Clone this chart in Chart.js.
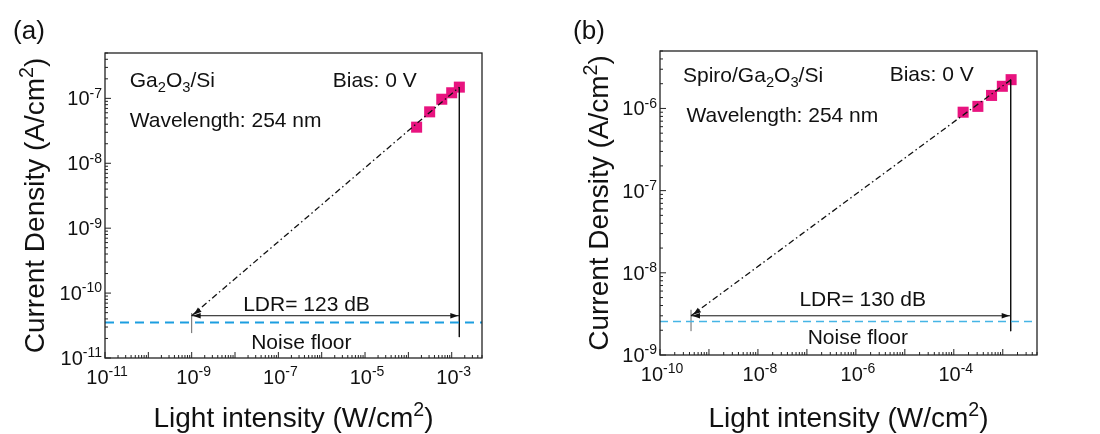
<!DOCTYPE html>
<html>
<head>
<meta charset="utf-8">
<script src="https://cdn.jsdelivr.net/npm/chart.js@4.4.1/dist/chart.umd.min.js"></script>
<style>
  html, body { margin: 0; padding: 0; background: #fff; }
  #wrap { position: relative; width: 1100px; height: 434px; }
  canvas { position: absolute; top: 0; }
  #chartA { left: 0; }
  #chartB { left: 550px; }
</style>
</head>
<body>
<div id="wrap">
  <canvas id="chartA" width="550" height="434"></canvas>
  <canvas id="chartB" width="550" height="434"></canvas>
</div>
<script>
// (a) Ga2O3/Si
const intensityA = [1.55e-4, 3.1e-4, 5.9e-4, 1.0e-3, 1.5e-3];
const currentA = [3.6e-8, 6.2e-8, 9.7e-8, 1.22e-7, 1.49e-7];
const xTicksA = [1e-11, 1e-9, 1e-7, 1e-5, 1e-3];
const yTicksA = [1e-11, 1e-10, 1e-9, 1e-8, 1e-7];
const noiseA = 3.53e-11;
const ldrLevelA = 4.48e-11;
const ldrRangeA = [1e-9, 1.5e-3];
const leftMarkA = [2.42e-11, 4.93e-11];
const rightMarkBottomA = 2.1e-11;

// (b) Spiro/Ga2O3/Si
const intensityB = [1.55e-4, 3.1e-4, 5.9e-4, 9.8e-4, 1.48e-3];
const currentB = [9.0e-7, 1.06e-6, 1.44e-6, 1.86e-6, 2.24e-6];
const xTicksB = [1e-10, 1e-8, 1e-6, 1e-4];
const yTicksB = [1e-9, 1e-8, 1e-7, 1e-6];
const noiseB = 2.55e-9;
const ldrLevelB = 3.0e-9;
const ldrRangeB = [4.3e-10, 1.45e-3];
const leftMarkB = [1.95e-9, 3.55e-9];
const rightMarkBottomB = 1.95e-9;

const FONT = '"Liberation Sans", Arial, sans-serif';
const PINK = '#e8137f';

// draw text made of parts: [text] or [text, 'sup' | 'sub']
function rich(ctx, parts, x, baseY, size, align) {
  const small = size * 0.7;
  const widths = parts.map(p => {
    ctx.font = (p[1] ? small : size) + 'px ' + FONT;
    return ctx.measureText(p[0]).width;
  });
  const total = widths.reduce((s, w) => s + w, 0);
  let cx = align === 'center' ? x - total / 2 : align === 'right' ? x - total : x;
  ctx.textAlign = 'left';
  ctx.textBaseline = 'alphabetic';
  parts.forEach((p, i) => {
    ctx.font = (p[1] ? small : size) + 'px ' + FONT;
    const dy = p[1] === 'sup' ? -0.38 * size : p[1] === 'sub' ? 0.24 * size : 0;
    ctx.fillText(p[0], cx, baseY + dy);
    cx += widths[i];
  });
}

function arrowHead(ctx, tx, ty, fx, fy) {
  const ang = Math.atan2(ty - fy, tx - fx);
  const len = 8, half = 2.8;
  ctx.beginPath();
  ctx.moveTo(tx, ty);
  ctx.lineTo(tx - len * Math.cos(ang) + half * Math.sin(ang), ty - len * Math.sin(ang) - half * Math.cos(ang));
  ctx.lineTo(tx - len * Math.cos(ang) - half * Math.sin(ang), ty - len * Math.sin(ang) + half * Math.cos(ang));
  ctx.closePath();
  ctx.fill();
}

function decor(cfg) {
  return {
    id: 'decor',
    afterDraw(chart) {
      const ctx = chart.ctx, a = chart.chartArea;
      const xs = chart.scales.x, ys = chart.scales.y;
      ctx.save();
      ctx.fillStyle = '#111';
      ctx.strokeStyle = '#222';

      // frame
      ctx.lineWidth = 1.3;
      ctx.strokeRect(a.left, a.top, a.right - a.left, a.bottom - a.top);

      // inward ticks, major at decades
      ctx.lineWidth = 1;
      ctx.beginPath();
      const addTicks = (scale, horiz) => {
        const lo = Math.floor(Math.log10(scale.min)), hi = Math.ceil(Math.log10(scale.max));
        for (let d = lo; d <= hi; d++) {
          for (let m = 1; m <= 9; m++) {
            const v = m * Math.pow(10, d);
            if (v < scale.min * 0.999 || v > scale.max * 1.001) continue;
            const p = scale.getPixelForValue(v);
            const len = m === 1 ? 6 : 3;
            if (horiz) { ctx.moveTo(p, a.bottom); ctx.lineTo(p, a.bottom - len); }
            else { ctx.moveTo(a.left, p); ctx.lineTo(a.left + len, p); }
          }
        }
      };
      addTicks(xs, true);
      addTicks(ys, false);
      ctx.stroke();

      // tick labels
      cfg.xTicks.forEach(v => {
        const e = Math.round(Math.log10(v));
        rich(ctx, [['10'], [String(e), 'sup']], xs.getPixelForValue(v) + 2, a.bottom + 26, 20, 'center');
      });
      cfg.yTicks.forEach(v => {
        const e = Math.round(Math.log10(v));
        rich(ctx, [['10'], [String(e), 'sup']], a.left - 3, ys.getPixelForValue(v) + 7, 20, 'right');
      });

      // axis titles
      rich(ctx, [['Light intensity (W/cm'], ['2', 'sup'], [')']], (a.left + a.right) / 2, 427, 28, 'center');
      ctx.save();
      ctx.translate(cfg.yTitleX, (a.top + a.bottom) / 2);
      ctx.rotate(-Math.PI / 2);
      rich(ctx, [['Current Density (A/cm'], ['2', 'sup'], [')']], 0, 0, 28, 'center');
      ctx.restore();

      // panel tag
      rich(ctx, [[cfg.tag]], cfg.tagX, 39, 26, 'center');

      // notes
      cfg.notes.forEach(n => {
        rich(ctx, n.parts, xs.getPixelForValue(n.x), ys.getPixelForValue(n.y) + 7.5, 21, n.align);
      });

      // arrow heads
      const y0 = ys.getPixelForValue(cfg.ldrLevel);
      const xl = xs.getPixelForValue(cfg.ldrRange[0]), xr = xs.getPixelForValue(cfg.ldrRange[1]);
      arrowHead(ctx, xl + 1, y0, xl + 10, y0);
      arrowHead(ctx, xr - 1, y0, xr - 10, y0);
      const fx = xs.getPixelForValue(cfg.x[cfg.x.length - 1]), fy = ys.getPixelForValue(cfg.y[cfg.y.length - 1]);
      arrowHead(ctx, xl + 2, y0 - 1, fx, fy);
      ctx.restore();
    }
  };
}

function makePanel(cfg) {
  const last = cfg.x.length - 1;
  const line = (pts, color, width, dash) => ({
    data: pts, showLine: true, borderColor: color, borderWidth: width,
    borderDash: dash || [], pointRadius: 0, fill: false, order: 0
  });
  return new Chart(document.getElementById(cfg.id), {
    type: 'scatter',
    data: {
      datasets: [
        {
          data: cfg.x.map((v, i) => ({ x: v, y: cfg.y[i] })),
          pointStyle: 'rect', pointRadius: 7.8, backgroundColor: PINK,
          borderWidth: 0, showLine: false, order: 2
        },
        line([{ x: cfg.xMin, y: cfg.noise }, { x: cfg.xMax, y: cfg.noise }], cfg.noiseColor, cfg.noiseWidth, cfg.noiseDash),
        line([{ x: cfg.ldrRange[0], y: cfg.ldrLevel }, { x: cfg.x[last], y: cfg.y[last] }], '#111', 1.3, [6, 3, 1.5, 3]),
        line([{ x: cfg.ldrRange[0], y: cfg.ldrLevel }, { x: cfg.ldrRange[1], y: cfg.ldrLevel }], '#111', 1),
        line([{ x: cfg.ldrRange[1], y: cfg.y[last] }, { x: cfg.ldrRange[1], y: cfg.rightMarkBottom }], '#111', 1),
        line([{ x: cfg.ldrRange[0], y: cfg.leftMark[0] }, { x: cfg.ldrRange[0], y: cfg.leftMark[1] }], '#666', 1)
      ]
    },
    options: {
      responsive: false,
      animation: false,
      devicePixelRatio: 1,
      layout: { padding: { left: 0, top: cfg.top, right: cfg.right, bottom: 0 } },
      plugins: { legend: { display: false }, tooltip: { enabled: false } },
      scales: {
        x: {
          type: 'logarithmic', min: cfg.xMin, max: cfg.xMax,
          grid: { display: false }, border: { display: false }, ticks: { display: false },
          afterFit: s => { s.height = cfg.xHeight; }
        },
        y: {
          type: 'logarithmic', min: cfg.yMin, max: cfg.yMax,
          grid: { display: false }, border: { display: false }, ticks: { display: false },
          afterFit: s => { s.width = cfg.yWidth; }
        }
      }
    },
    plugins: [decor(cfg)]
  });
}

makePanel({
  id: 'chartA', tag: '(a)', tagX: 29, yTitleX: 44,
  xMin: 1e-11, xMax: 5e-3, yMin: 1e-11, yMax: 5e-7,
  yWidth: 105, right: 68, top: 53, xHeight: 76,
  xTicks: xTicksA, yTicks: yTicksA, x: intensityA, y: currentA,
  noise: noiseA, noiseColor: '#1c9ee0', noiseWidth: 2, noiseDash: [9, 6],
  ldrLevel: ldrLevelA, ldrRange: ldrRangeA, leftMark: leftMarkA, rightMarkBottom: rightMarkBottomA,
  notes: [
    { parts: [['Ga'], ['2', 'sub'], ['O'], ['3', 'sub'], ['/Si']], x: Math.pow(10, -10.43), y: Math.pow(10, -6.71), align: 'left' },
    { parts: [['Bias: 0 V']], x: Math.pow(10, -5.745), y: Math.pow(10, -6.71), align: 'left' },
    { parts: [['Wavelength: 254 nm']], x: Math.pow(10, -10.43), y: Math.pow(10, -7.324), align: 'left' },
    { parts: [['LDR= 123 dB']], x: Math.pow(10, -6.35), y: Math.pow(10, -10.16), align: 'center' },
    { parts: [['Noise floor']], x: Math.pow(10, -6.47), y: Math.pow(10, -10.745), align: 'center' }
  ]
});

makePanel({
  id: 'chartB', tag: '(b)', tagX: 39, yTitleX: 58,
  xMin: 1e-10, xMax: 5e-3, yMin: 1e-9, yMax: 5e-6,
  yWidth: 110, right: 63, top: 51, xHeight: 79,
  xTicks: xTicksB, yTicks: yTicksB, x: intensityB, y: currentB,
  noise: noiseB, noiseColor: '#45b5e5', noiseWidth: 1.5, noiseDash: [8, 5],
  ldrLevel: ldrLevelB, ldrRange: ldrRangeB, leftMark: leftMarkB, rightMarkBottom: rightMarkBottomB,
  notes: [
    { parts: [['Spiro/Ga'], ['2', 'sub'], ['O'], ['3', 'sub'], ['/Si']], x: Math.pow(10, -9.53), y: Math.pow(10, -5.59), align: 'left' },
    { parts: [['Bias: 0 V']], x: Math.pow(10, -5.31), y: Math.pow(10, -5.58), align: 'left' },
    { parts: [['Wavelength: 254 nm']], x: Math.pow(10, -9.46), y: Math.pow(10, -6.077), align: 'left' },
    { parts: [['LDR= 130 dB']], x: Math.pow(10, -5.86), y: Math.pow(10, -8.31), align: 'center' },
    { parts: [['Noise floor']], x: Math.pow(10, -5.96), y: Math.pow(10, -8.777), align: 'center' }
  ]
});
</script>
</body>
</html>
